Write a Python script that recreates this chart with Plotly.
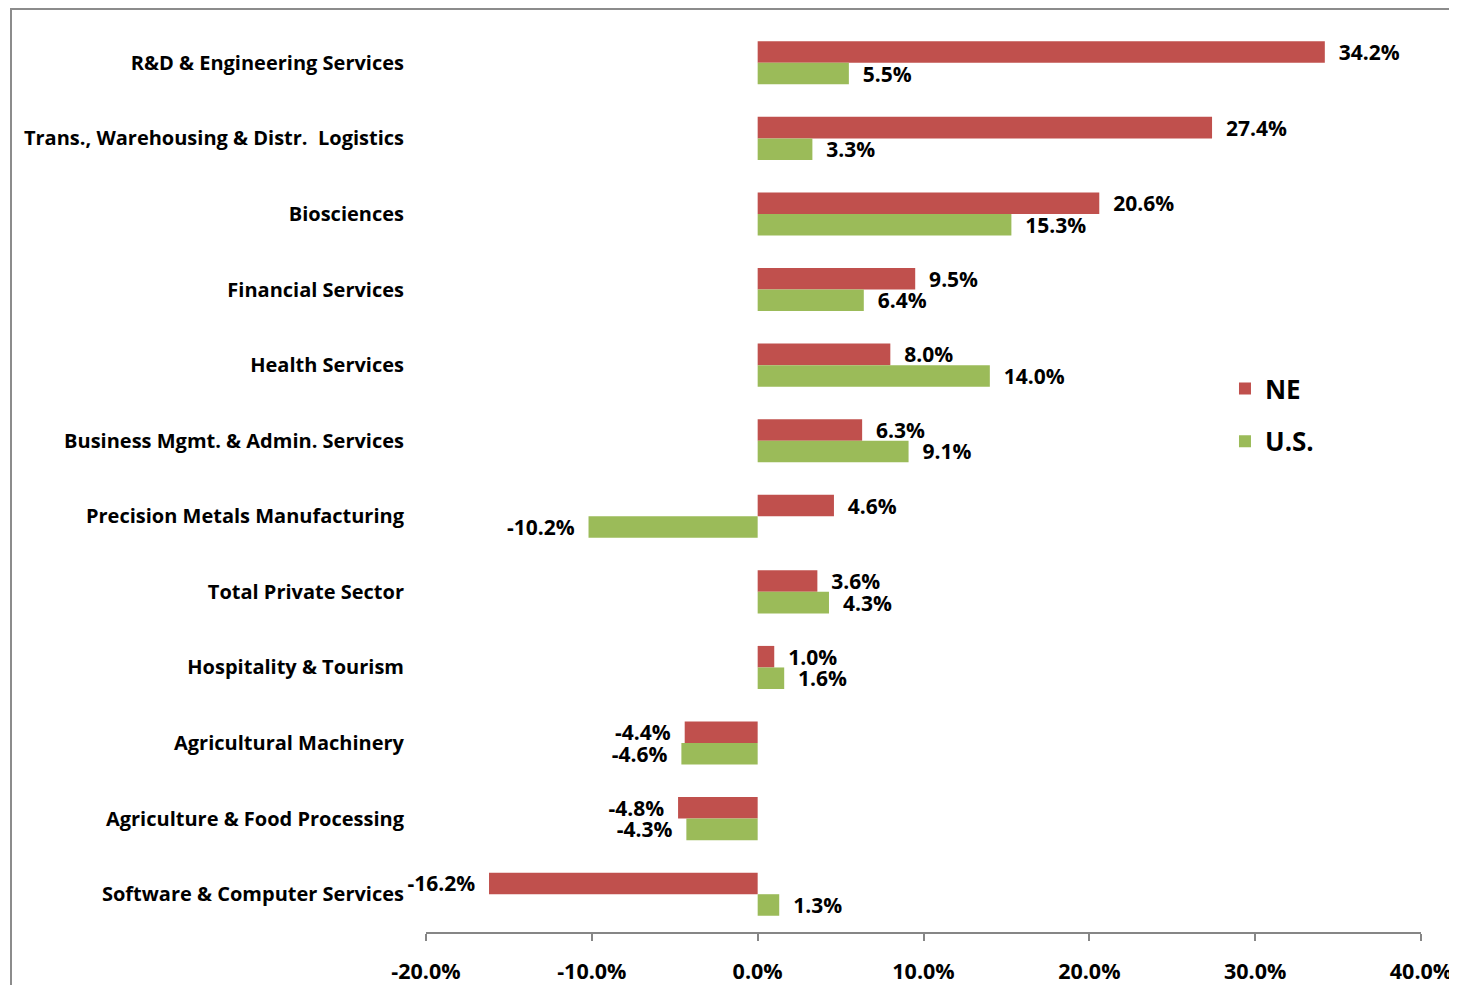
import plotly.graph_objects as go

categories = [
    "R&D & Engineering Services",
    "Trans., Warehousing & Distr.  Logistics",
    "Biosciences",
    "Financial Services",
    "Health Services",
    "Business Mgmt. & Admin. Services",
    "Precision Metals Manufacturing",
    "Total Private Sector",
    "Hospitality & Tourism",
    "Agricultural Machinery",
    "Agriculture & Food Processing",
    "Software & Computer Services",
]
ne_values = [34.2, 27.4, 20.6, 9.5, 8.0, 6.3, 4.6, 3.6, 1.0, -4.4, -4.8, -16.2]
us_values = [5.5, 3.3, 15.3, 6.4, 14.0, 9.1, -10.2, 4.3, 1.6, -4.6, -4.3, 1.3]
x_ticks = [-20, -10, 0, 10, 20, 30, 40]
x_ticklabels = ["-20.0%", "-10.0%", "0.0%", "10.0%", "20.0%", "30.0%", "40.0%"]

NE_COLOR = "#C0504D"
US_COLOR = "#9BBB59"
AXIS_COLOR = "#868686"
FONT = "Open Sans"
NB = "\u00a0"

def labels(vals):
    out = []
    for v in vals:
        s = f"{v:.1f}%"
        out.append(NB * 2 + s if v >= 0 else s + NB * 2)
    return out

fig = go.Figure()
fig.add_trace(go.Bar(
    name="NE", y=categories, x=ne_values, orientation="h",
    marker=dict(color=NE_COLOR, line=dict(width=0)),
    text=labels(ne_values), textposition="outside", cliponaxis=False,
    constraintext="none", legendgroup="ne",
    textfont=dict(family=FONT, size=21, color="black", weight="bold"),
))
fig.add_trace(go.Bar(
    name="U.S.", y=categories, x=us_values, orientation="h",
    marker=dict(color=US_COLOR, line=dict(width=0)),
    text=labels(us_values), textposition="outside", cliponaxis=False,
    constraintext="none", legendgroup="us",
    textfont=dict(family=FONT, size=21, color="black", weight="bold"),
))

n = len(categories)
boundaries = [i - 0.5 for i in range(n + 1)]

W, H = 1449, 977
L, R, T, B = 418, 36, 17, 53
plot_w = W - L - R
plot_h = H - T - B

fig.update_layout(
    width=W, height=H,
    margin=dict(l=L, r=R, t=T, b=B, autoexpand=False),
    paper_bgcolor="white", plot_bgcolor="white",
    barmode="group", bargap=0.43, bargroupgap=0,
    font=dict(family=FONT, color="black"),
    showlegend=True,
    legend=dict(
        x=0.803, y=0.625, xanchor="left", yanchor="top",
        font=dict(family=FONT, size=26, color="black", weight="bold"),
        bgcolor="rgba(0,0,0,0)", traceorder="grouped", itemwidth=30,
        tracegroupgap=16,
    ),
    xaxis=dict(
        range=[-20, 40], tickvals=x_ticks, ticktext=x_ticklabels,
        showgrid=False, zeroline=False, automargin=False,
        showline=True, linecolor=AXIS_COLOR, linewidth=1.5,
        ticks="outside", ticklen=7, tickcolor=AXIS_COLOR, tickwidth=1.5,
        tickfont=dict(family=FONT, size=21.5, color="black", weight="bold"),
        ticklabelstandoff=12, ticklabeloverflow="allow",
    ),
    yaxis=dict(
        type="category", categoryorder="array", categoryarray=categories,
        range=[n - 0.5, -0.5], automargin=False,
        showgrid=False, zeroline=False, showline=False, ticks="",
        tickfont=dict(family=FONT, size=20, color="black", weight="bold"),
        ticklabelstandoff=21,
    ),
    yaxis2=dict(
        overlaying="y", anchor="free", position=1 / 3, side="left",
        range=[n - 0.5, -0.5], tickvals=boundaries, showticklabels=False,
        showgrid=False, zeroline=False, automargin=False,
        showline=True, linecolor=AXIS_COLOR, linewidth=1.5,
        ticks="outside", ticklen=7, tickcolor=AXIS_COLOR, tickwidth=1.5,
    ),
    shapes=[dict(
        type="rect", xref="paper", yref="paper",
        x0=(3 - L) / plot_w, x1=1.2, y0=-0.3, y1=(plot_h + T - 1) / plot_h,
        line=dict(color="#8C8C8C", width=2), fillcolor="rgba(0,0,0,0)",
        layer="below",
    )],
)

fig.write_html("out.html")
